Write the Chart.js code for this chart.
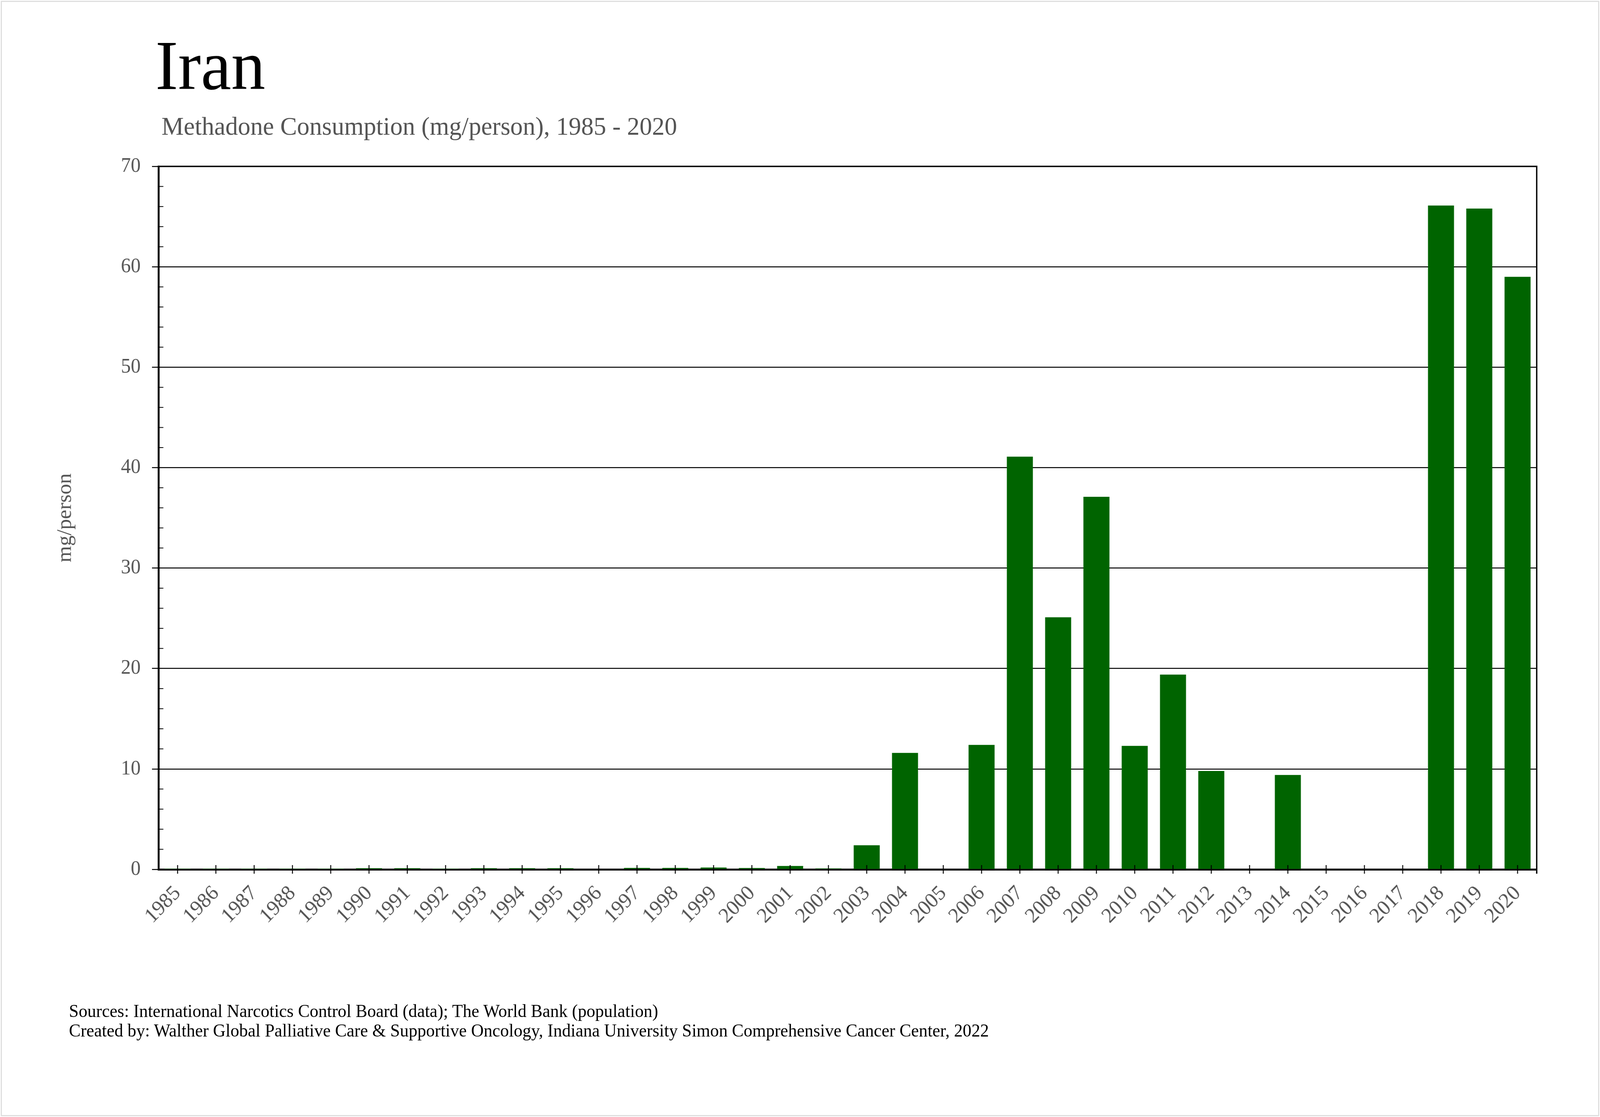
<!DOCTYPE html>
<html>
<head>
<meta charset="utf-8">
<script src="https://cdn.jsdelivr.net/npm/chart.js@4.4.1/dist/chart.umd.min.js"></script>
<style>
  html, body { margin: 0; background: #fff; overflow: hidden; }
  #wrap { position: relative; width: 4221px; height: 2860px; overflow: hidden; transform-origin: 0 0; }
  #frame { position: absolute; left: 2px; top: 2px; width: 4211px; height: 2850px; border: 3px solid #dedede; }
  .txt { position: absolute; font-family: 'Liberation Serif', 'Times New Roman', serif; white-space: nowrap; line-height: 1; }
  #title { left: 410px; top: 78px; font-size: 180px; color: #000; }
  #subtitle { left: 426px; top: 290px; font-size: 66px; color: #555; }
  #footer { left: 182px; top: 2564px; font-size: 46px; line-height: 50px; color: #000; }
  canvas { position: absolute; left: 0; top: 0; }
</style>
</head>
<body>
<div id="wrap">
  <div id="frame"></div>
  <canvas id="myChart" width="4221" height="2860"></canvas>
  <div class="txt" id="title">Iran</div>
  <div class="txt" id="subtitle">Methadone Consumption (mg/person), 1985 - 2020</div>
  <div class="txt" id="footer">Sources: International Narcotics Control Board (data); The World Bank (population)<br>Created by: Walther Global Palliative Care &amp; Supportive Oncology, Indiana University Simon Comprehensive Cancer Center, 2022</div>
</div>
<script>
const years = [
  '1985', '1986', '1987', '1988', '1989', '1990', '1991', '1992', '1993', '1994', '1995', '1996',
  '1997', '1998', '1999', '2000', '2001', '2002', '2003', '2004', '2005', '2006', '2007', '2008',
  '2009', '2010', '2011', '2012', '2013', '2014', '2015', '2016', '2017', '2018', '2019', '2020',
];
const mgPerPerson = [
  0.08, 0.08, 0.08, 0.08, 0.08, 0.12, 0.12, 0.08, 0.12, 0.12, 0.12, 0,
  0.15, 0.15, 0.18, 0.14, 0.34, 0.1, 2.4, 11.6, 0, 12.4, 41.1, 25.1,
  37.1, 12.3, 19.4, 9.8, 0, 9.4, 0, 0, 0, 66.1, 65.8, 59.0,
];
const yTicks = [0, 10, 20, 30, 40, 50, 60, 70];

const serif = "'Liberation Serif', 'Times New Roman', serif";
const GREEN = '#006400';
const GREY = '#555555';

// the page is laid out at 4221x2860; squeeze it into the real viewport
const W = 4221, H = 2860;
const vw = window.innerWidth || W;
const vh = window.innerHeight || H;
document.getElementById('wrap').style.transform = `scale(${vw / W}, ${vh / H})`;

// minor ticks inside the y axis, crossing ticks on the x axis, top/right frame
const axisExtras = {
  id: 'axisExtras',
  afterDatasetsDraw(chart) {
    const { ctx, chartArea: { top, bottom, left, right }, scales: { x, y } } = chart;
    ctx.save();
    ctx.strokeStyle = '#000';

    ctx.lineWidth = 2;
    y.ticks.forEach((t) => {
      if (yTicks.includes(t.value)) return;
      const py = y.getPixelForValue(t.value);
      ctx.beginPath();
      ctx.moveTo(left, py);
      ctx.lineTo(left + 13, py);
      ctx.stroke();
    });

    ctx.lineWidth = 2.5;
    x.ticks.forEach((t, i) => {
      const px = x.getPixelForTick(i);
      ctx.beginPath();
      ctx.moveTo(px, bottom - 11);
      ctx.lineTo(px, bottom + 11);
      ctx.stroke();
    });

    // frame
    ctx.lineWidth = 3.5;
    ctx.beginPath();
    ctx.moveTo(left, top);
    ctx.lineTo(right, top);
    ctx.lineTo(right, bottom + 11);
    ctx.stroke();
    ctx.restore();
  },
};

const isMajor = (v) => yTicks.includes(v);

new Chart(document.getElementById('myChart'), {
  type: 'bar',
  data: {
    labels: years,
    datasets: [{
      data: mgPerPerson,
      backgroundColor: GREEN,
      borderWidth: 0,
      barPercentage: 0.68,
      categoryPercentage: 1.0,
    }],
  },
  options: {
    responsive: false,
    animation: false,
    devicePixelRatio: 1,
    layout: {
      padding: { left: 140, top: 426, right: 167, bottom: 384 },
    },
    plugins: {
      legend: { display: false },
      tooltip: { enabled: false },
    },
    scales: {
      x: {
        grid: { display: true, drawOnChartArea: false, drawTicks: false },
        border: { display: true, color: '#000', width: 5 },
        ticks: {
          color: GREY,
          font: { family: serif, size: 54 },
          maxRotation: 45,
          minRotation: 45,
          autoSkip: false,
          padding: 30,
        },
        afterFit(scale) { scale.height = 250; },
      },
      y: {
        min: 0,
        max: 70,
        ticks: {
          stepSize: 2,
          autoSkip: false,
          color: GREY,
          font: { family: serif, size: 52 },
          padding: 30,
          callback: (v) => (isMajor(v) ? v : ''),
        },
        grid: {
          color: (c) => (isMajor(c.tick.value) ? '#000' : 'rgba(0,0,0,0)'),
          tickColor: (c) => (isMajor(c.tick.value) ? '#000' : 'rgba(0,0,0,0)'),
          lineWidth: 2.5,
          tickWidth: 2.5,
          tickLength: 17,
        },
        border: { display: true, color: '#000', width: 5 },
        title: {
          display: true,
          text: 'mg/person',
          color: GREY,
          font: { family: serif, size: 54 },
          padding: 0,
        },
        afterFit(scale) { scale.width = 278; },
      },
    },
  },
  plugins: [axisExtras],
});
</script>
</body>
</html>
